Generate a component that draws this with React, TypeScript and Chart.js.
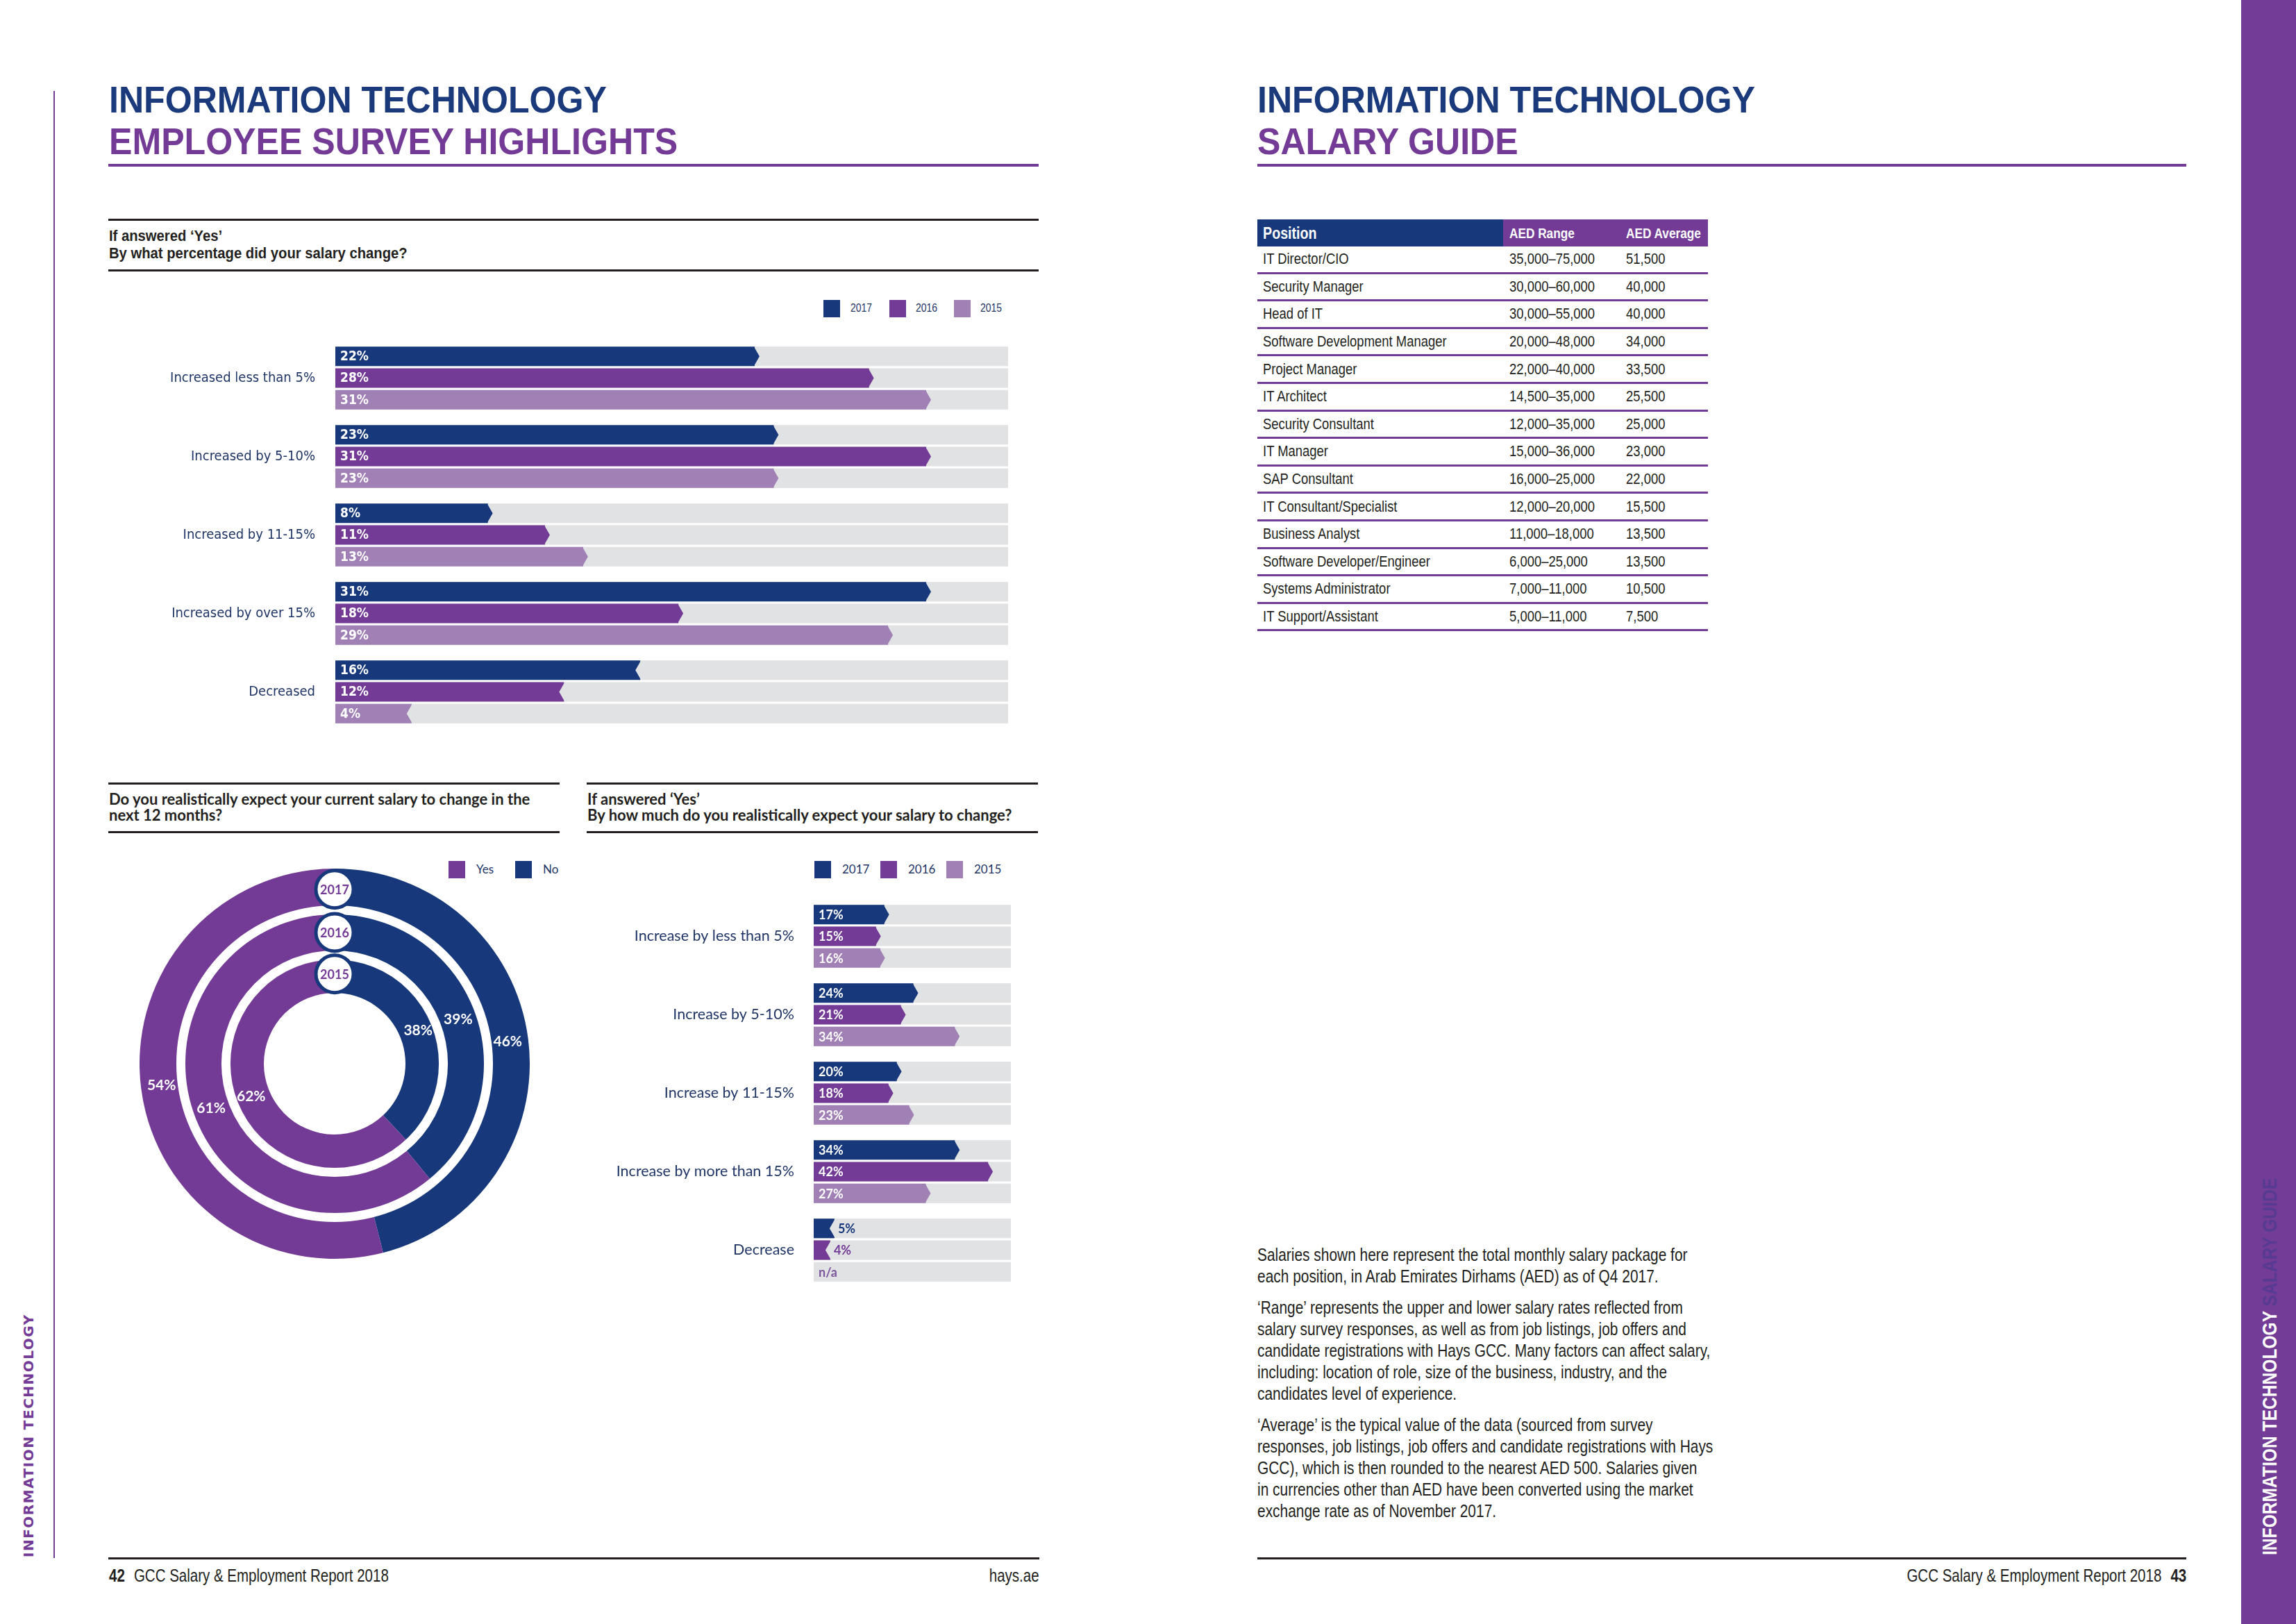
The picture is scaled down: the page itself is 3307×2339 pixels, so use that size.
import React, { useEffect, useRef } from 'react';
import { Chart, registerables } from 'chart.js';

Chart.register(...registerables);

// ---------- data ----------
const surveyCategories = ['Increased less than 5%', 'Increased by 5-10%', 'Increased by 11-15%', 'Increased by over 15%', 'Decreased'];
const surveyYears = ['2017', '2016', '2015'];
const survey2017 = [22, 23, 8, 31, 16];
const survey2016 = [28, 31, 11, 18, 12];
const survey2015 = [31, 23, 13, 29, 4];

const expectCategories = ['Increase by less than 5%', 'Increase by 5-10%', 'Increase by 11-15%', 'Increase by more than 15%', 'Decrease'];
const expect2017 = [17, 24, 20, 34, 5];
const expect2016 = [15, 21, 18, 42, 4];
const expect2015: (number | null)[] = [16, 34, 23, 27, null];

const ringYears = ['2017', '2016', '2015'];
const ringAnswers = ['No', 'Yes'];
const ringNo = [46, 39, 38];
const ringYes = [54, 61, 62];

const positions = ['IT Director/CIO', 'Security Manager', 'Head of IT', 'Software Development Manager', 'Project Manager', 'IT Architect', 'Security Consultant', 'IT Manager', 'SAP Consultant', 'IT Consultant/Specialist', 'Business Analyst', 'Software Developer/Engineer', 'Systems Administrator', 'IT Support/Assistant'];
const ranges = ['35,000–75,000', '30,000–60,000', '30,000–55,000', '20,000–48,000', '22,000–40,000', '14,500–35,000', '12,000–35,000', '15,000–36,000', '16,000–25,000', '12,000–20,000', '11,000–18,000', '6,000–25,000', '7,000–11,000', '5,000–11,000'];
const averages = ['51,500', '40,000', '40,000', '34,000', '33,500', '25,500', '25,000', '23,000', '22,000', '15,500', '13,500', '13,500', '10,500', '7,500'];

const footnote = [
  ['Salaries shown here represent the total monthly salary package for', 'each position, in Arab Emirates Dirhams (AED) as of Q4 2017.'],
  ['‘Range’ represents the upper and lower salary rates reflected from', 'salary survey responses, as well as from job listings, job offers and', 'candidate registrations with Hays GCC. Many factors can affect salary,', 'including: location of role, size of the business, industry, and the', 'candidates level of experience.'],
  ['‘Average’ is the typical value of the data (sourced from survey', 'responses, job listings, job offers and candidate registrations with Hays', 'GCC), which is then rounded to the nearest AED 500. Salaries given', 'in currencies other than AED have been converted using the market', 'exchange rate as of November 2017.'],
];

// ---------- style ----------
const NAVY = '#17397b';
const TITLE_NAVY = '#1a3a7c';
const PURPLE = '#733b96';
const LILAC = '#a080b5';
const TRACK = '#e1e2e4';
const INK = '#231f20';
const LABEL_NAVY = '#1f3566';
const NA_COLOR = '#7d559f';
const SIDEBAR = '#733d97';
const SIDEBAR_TEXT2 = '#573a92';

const SANS = '"Liberation Sans", Arial, sans-serif';
const COND = '"DejaVu Sans Condensed", "DejaVu Sans", sans-serif';
const WIDE = 'Lato, "Open Sans", sans-serif';
const EXT = '"DejaVu Sans", sans-serif';
const NARROW_X = 0.82;

type BarProps = {
  categories: string[];
  series: (number | null)[][];
  names: string[];
  colors: string[];
  max: number;
  left: number;
  top: number;
  width: number;
  height: number;
  axisWidth: number;
  labelPad: number;
  catFamily: string;
  catSize: number;
  valueFamily: string;
  valueSize: number;
};

function BarChart(p: BarProps) {
  const ref = useRef<HTMLCanvasElement>(null);
  useEffect(() => {
    const tip = 7;
    const decor = {
      id: 'barDecor',
      beforeDatasetsDraw(chart: any) {
        const { ctx, chartArea: a } = chart;
        ctx.save();
        ctx.fillStyle = TRACK;
        chart.data.datasets.forEach((_: any, di: number) => {
          chart.getDatasetMeta(di).data.forEach((bar: any) => {
            ctx.fillRect(a.left, bar.y - bar.height / 2, a.right - a.left, bar.height);
          });
        });
        ctx.restore();
      },
      afterDatasetsDraw(chart: any) {
        const { ctx, chartArea: a } = chart;
        ctx.save();
        chart.data.datasets.forEach((ds: any, di: number) => {
          chart.getDatasetMeta(di).data.forEach((bar: any, i: number) => {
            const v = ds.data[i];
            const dec = /^Decrease/.test(chart.data.labels[i]);
            const h = bar.height;
            const y = bar.y;
            const t = y - h / 2;
            const b = y + h / 2;
            let lx = a.left + 7;
            let color = '#fff';
            const text = v == null ? 'n/a' : `${v}%`;
            if (v != null) {
              const x = bar.x;
              ctx.beginPath();
              if (dec) {
                ctx.fillStyle = TRACK;
                ctx.moveTo(x + 1, t);
                ctx.lineTo(x - tip, y);
                ctx.lineTo(x + 1, b);
              } else {
                ctx.fillStyle = ds.backgroundColor;
                ctx.moveTo(x - 1, t);
                ctx.lineTo(x + tip, y);
                ctx.lineTo(x - 1, b);
              }
              ctx.closePath();
              ctx.fill();
              if (x - a.left < 55) {
                lx = x + 5;
                color = ds.backgroundColor;
              }
            } else {
              color = NA_COLOR;
            }
            ctx.font = `bold ${p.valueSize}px ${p.valueFamily}`;
            ctx.fillStyle = color;
            ctx.textAlign = 'left';
            ctx.textBaseline = 'middle';
            ctx.fillText(text, lx, y + 1);
          });
        });
        ctx.restore();
      },
    };
    const chart = new Chart(ref.current as HTMLCanvasElement, {
      type: 'bar',
      data: {
        labels: p.categories,
        datasets: p.series.map((d, k) => ({
          label: p.names[k],
          data: d,
          backgroundColor: p.colors[k],
          borderWidth: 0,
          categoryPercentage: 0.83,
          barPercentage: 0.9,
        })),
      },
      options: {
        indexAxis: 'y',
        responsive: false,
        animation: false,
        devicePixelRatio: 1,
        events: [],
        layout: { padding: 0, autoPadding: false },
        plugins: { legend: { display: false }, tooltip: { enabled: false } },
        scales: {
          x: { type: 'linear', min: 0, max: p.max, display: false },
          y: {
            type: 'category',
            grid: { display: false, drawTicks: false },
            border: { display: false },
            ticks: {
              color: LABEL_NAVY,
              padding: p.labelPad,
              font: { family: p.catFamily, size: p.catSize, weight: 'normal' },
            },
            afterFit: (s: any) => {
              s.width = p.axisWidth;
              s.paddingTop = 0;
              s.paddingBottom = 0;
            },
          },
        },
      } as any,
      plugins: [decor],
    });
    return () => chart.destroy();
  }, []);
  return (
    <canvas
      ref={ref}
      width={p.width}
      height={p.height}
      style={{ position: 'absolute', left: p.left, top: p.top, width: p.width, height: p.height }}
    />
  );
}

function RingChart() {
  const ref = useRef<HTMLCanvasElement>(null);
  useEffect(() => {
    const decor = {
      id: 'ringDecor',
      afterDatasetsDraw(chart: any) {
        const ctx = chart.ctx;
        const metas = chart.data.datasets.map((_: any, i: number) => chart.getDatasetMeta(i));
        const a0 = metas[0].data[0];
        const cx = a0.x;
        const cy = a0.y;
        ctx.save();
        ctx.strokeStyle = '#fff';
        ctx.lineWidth = 13;
        for (let i = 0; i < metas.length - 1; i++) {
          ctx.beginPath();
          ctx.arc(cx, cy, metas[i].data[0].innerRadius, 0, Math.PI * 2);
          ctx.stroke();
        }
        ctx.font = `bold 21px ${WIDE}`;
        ctx.fillStyle = '#fff';
        ctx.textAlign = 'center';
        ctx.textBaseline = 'middle';
        metas.forEach((meta: any, di: number) => {
          meta.data.forEach((arc: any, j: number) => {
            const pos = arc.tooltipPosition();
            ctx.fillText(`${chart.data.datasets[di].data[j]}%`, pos.x, pos.y);
          });
        });
        metas.forEach((meta: any, di: number) => {
          const arc = meta.data[0];
          const r = (arc.innerRadius + arc.outerRadius) / 2;
          const by = cy - r;
          ctx.beginPath();
          ctx.arc(cx, by, 27, 0, Math.PI * 2);
          ctx.fillStyle = '#fff';
          ctx.fill();
          ctx.lineWidth = 5;
          ctx.strokeStyle = NAVY;
          ctx.stroke();
          ctx.font = `bold 18px ${WIDE}`;
          ctx.fillStyle = PURPLE;
          ctx.fillText(chart.data.datasets[di].label, cx, by + 1);
        });
        ctx.restore();
      },
    };
    const weights = [1.09, 1.19, 1.0];
    const chart = new Chart(ref.current as HTMLCanvasElement, {
      type: 'doughnut',
      data: {
        labels: ringAnswers,
        datasets: ringYears.map((yr, i) => ({
          label: yr,
          data: [ringNo[i], ringYes[i]],
          backgroundColor: [NAVY, PURPLE],
          borderWidth: 0,
          hoverOffset: 0,
          weight: weights[i],
        })),
      },
      options: {
        responsive: false,
        animation: false,
        devicePixelRatio: 1,
        events: [],
        cutout: '36.3%',
        layout: { padding: 0 },
        plugins: { legend: { display: false }, tooltip: { enabled: false } },
      } as any,
      plugins: [decor],
    });
    return () => chart.destroy();
  }, []);
  return (
    <canvas ref={ref} width={562} height={562} style={{ position: 'absolute', left: 201, top: 1251, width: 562, height: 562 }} />
  );
}

const abs = (left: number, top: number, extra: React.CSSProperties = {}): React.CSSProperties => ({
  position: 'absolute',
  left,
  top,
  ...extra,
});

function Rule({ left, top, width, height, color }: { left: number; top: number; width: number; height: number; color: string }) {
  return <div style={abs(left, top, { width, height, background: color })} />;
}

function Narrow({ children, origin = 'left center' }: { children: React.ReactNode; origin?: string }) {
  return (
    <span style={{ display: 'inline-block', transform: `scaleX(${NARROW_X})`, transformOrigin: origin, whiteSpace: 'nowrap' }}>
      {children}
    </span>
  );
}

function LegendItem({ x, tx, y, color, label, family, narrow }: { x: number; tx: number; y: number; color: string; label: string; family: string; narrow?: boolean }) {
  return (
    <>
      <div style={abs(x, y - 12, { width: 24, height: 25, background: color })} />
      <div style={abs(tx, y - 15, { height: 30, lineHeight: '30px', fontFamily: family, fontSize: 17, color: LABEL_NAVY, whiteSpace: 'nowrap' })}>
        {narrow ? <Narrow>{label}</Narrow> : label}
      </div>
    </>
  );
}

export default function App() {
  const titleStyle: React.CSSProperties = {
    fontFamily: SANS,
    fontWeight: 'bold',
    fontSize: 53,
    lineHeight: '59.5px',
    whiteSpace: 'nowrap',
    transform: 'scaleX(0.945)',
    transformOrigin: 'left top',
  };
  const rowH = 39.6;
  return (
    <div style={{ position: 'absolute', left: 0, top: 0, width: 3307, height: 2339, background: '#fff', overflow: 'hidden' }}>
      {/* left margin line and vertical label */}
      <Rule left={77} top={131} width={2} height={2113} color={PURPLE} />
      <div
        style={abs(31, 2243, {
          transform: 'rotate(-90deg)',
          transformOrigin: '0 0',
          fontFamily: EXT,
          fontWeight: 'bold',
          fontSize: 20,
          lineHeight: '20px',
          letterSpacing: 1.5,
          color: PURPLE,
          whiteSpace: 'nowrap',
        })}
      >
        INFORMATION TECHNOLOGY
      </div>

      {/* left title */}
      <div style={abs(157, 114, titleStyle)}>
        <div style={{ color: TITLE_NAVY }}>INFORMATION TECHNOLOGY</div>
        <div style={{ color: PURPLE }}>EMPLOYEE SURVEY HIGHLIGHTS</div>
      </div>
      <Rule left={156} top={236} width={1340} height={4} color={PURPLE} />

      {/* chart 1 header */}
      <Rule left={156} top={315} width={1340} height={3} color={INK} />
      <div
        style={abs(157, 327, {
          fontFamily: SANS,
          fontWeight: 'bold',
          fontSize: 22,
          lineHeight: '25px',
          color: INK,
          whiteSpace: 'nowrap',
          transform: 'scaleX(0.92)',
          transformOrigin: 'left top',
        })}
      >
        <div>If answered ‘Yes’</div>
        <div>By what percentage did your salary change?</div>
      </div>
      <Rule left={156} top={388} width={1340} height={3} color={INK} />
      <LegendItem x={1186} tx={1225} y={444} color={NAVY} label={surveyYears[0]} family={SANS} narrow />
      <LegendItem x={1281} tx={1319} y={444} color={PURPLE} label={surveyYears[1]} family={SANS} narrow />
      <LegendItem x={1374} tx={1412} y={444} color={LILAC} label={surveyYears[2]} family={SANS} narrow />
      <BarChart
        categories={surveyCategories}
        series={[survey2017, survey2016, survey2015]}
        names={surveyYears}
        colors={[NAVY, PURPLE, LILAC]}
        max={35.3}
        left={150}
        top={488}
        width={1302}
        height={565}
        axisWidth={333}
        labelPad={29}
        catFamily={COND}
        catSize={20}
        valueFamily={COND}
        valueSize={19}
      />

      {/* doughnut section */}
      <Rule left={156} top={1127} width={650} height={3} color={INK} />
      <div style={abs(157, 1139, { fontFamily: WIDE, fontWeight: 'bold', fontSize: 22, lineHeight: '23px', color: INK, whiteSpace: 'nowrap' })}>
        <div>Do you realistically expect your current salary to change in the</div>
        <div>next 12 months?</div>
      </div>
      <Rule left={156} top={1197} width={650} height={3} color={INK} />
      <LegendItem x={646} tx={686} y={1252} color={PURPLE} label={ringAnswers[1]} family={WIDE} />
      <LegendItem x={742} tx={782} y={1252} color={NAVY} label={ringAnswers[0]} family={WIDE} />
      <RingChart />

      {/* chart 2 section */}
      <Rule left={845} top={1127} width={650} height={3} color={INK} />
      <div style={abs(846, 1139, { fontFamily: WIDE, fontWeight: 'bold', fontSize: 22, lineHeight: '23px', color: INK, whiteSpace: 'nowrap' })}>
        <div>If answered ‘Yes’</div>
        <div>By how much do you realistically expect your salary to change?</div>
      </div>
      <Rule left={845} top={1197} width={650} height={3} color={INK} />
      <LegendItem x={1173} tx={1213} y={1252} color={NAVY} label={surveyYears[0]} family={WIDE} />
      <LegendItem x={1268} tx={1308} y={1252} color={PURPLE} label={surveyYears[1]} family={WIDE} />
      <LegendItem x={1363} tx={1403} y={1252} color={LILAC} label={surveyYears[2]} family={WIDE} />
      <BarChart
        categories={expectCategories}
        series={[expect2017, expect2016, expect2015]}
        names={surveyYears}
        colors={[NAVY, PURPLE, LILAC]}
        max={47.5}
        left={800}
        top={1292}
        width={656}
        height={565}
        axisWidth={372}
        labelPad={28}
        catFamily={WIDE}
        catSize={21.5}
        valueFamily={WIDE}
        valueSize={18}
      />

      {/* left footer */}
      <Rule left={156} top={2243} width={1341} height={3} color={INK} />
      <div style={abs(157, 2254, { fontFamily: SANS, fontSize: 25, lineHeight: '30px', color: INK, whiteSpace: 'nowrap' })}>
        <Narrow>
          <b>42</b>
          <span style={{ marginLeft: 16 }}>GCC Salary &amp; Employment Report 2018</span>
        </Narrow>
      </div>
      <div style={abs(1297, 2254, { width: 200, textAlign: 'right', fontFamily: SANS, fontSize: 25, lineHeight: '30px', color: INK, whiteSpace: 'nowrap' })}>
        <Narrow origin="right center">hays.ae</Narrow>
      </div>

      {/* right title */}
      <div style={abs(1811, 114, titleStyle)}>
        <div style={{ color: TITLE_NAVY }}>INFORMATION TECHNOLOGY</div>
        <div style={{ color: PURPLE }}>SALARY GUIDE</div>
      </div>
      <Rule left={1811} top={236} width={1338} height={4} color={PURPLE} />

      {/* table */}
      <div style={abs(1811, 316, { width: 649, fontFamily: SANS, color: INK })}>
        <div style={{ display: 'flex', height: 39, color: '#fff', fontWeight: 'bold' }}>
          <div style={{ width: 354, background: NAVY, paddingLeft: 8, boxSizing: 'border-box', fontSize: 24, lineHeight: '39px' }}>
            <Narrow>Position</Narrow>
          </div>
          <div style={{ width: 168, background: PURPLE, paddingLeft: 9, boxSizing: 'border-box', fontSize: 21, lineHeight: '39px' }}>
            <Narrow>AED Range</Narrow>
          </div>
          <div style={{ width: 127, background: PURPLE, paddingLeft: 9, boxSizing: 'border-box', fontSize: 21, lineHeight: '39px' }}>
            <Narrow>AED Average</Narrow>
          </div>
        </div>
        {positions.map((pos, i) => (
          <div
            key={pos}
            style={{ display: 'flex', alignItems: 'center', height: rowH, borderBottom: `3px solid ${PURPLE}`, boxSizing: 'border-box', fontSize: 22.5, whiteSpace: 'nowrap' }}
          >
            <div style={{ width: 354, paddingLeft: 8, boxSizing: 'border-box' }}>
              <Narrow>{pos}</Narrow>
            </div>
            <div style={{ width: 168, paddingLeft: 9, boxSizing: 'border-box' }}>
              <Narrow>{ranges[i]}</Narrow>
            </div>
            <div style={{ width: 127, paddingLeft: 9, boxSizing: 'border-box' }}>
              <Narrow>{averages[i]}</Narrow>
            </div>
          </div>
        ))}
      </div>

      {/* footnote */}
      <div
        style={abs(1811, 1792, {
          fontFamily: SANS,
          fontSize: 25.5,
          lineHeight: '31px',
          color: INK,
          whiteSpace: 'nowrap',
          transform: `scaleX(${NARROW_X})`,
          transformOrigin: 'left top',
        })}
      >
        {footnote.map((para, i) => (
          <div key={i} style={{ marginTop: i === 0 ? 0 : 14 }}>
            {para.map((ln) => (
              <div key={ln}>{ln}</div>
            ))}
          </div>
        ))}
      </div>

      {/* right footer */}
      <Rule left={1811} top={2243} width={1338} height={3} color={INK} />
      <div style={abs(2649, 2254, { width: 500, textAlign: 'right', fontFamily: SANS, fontSize: 25, lineHeight: '30px', color: INK, whiteSpace: 'nowrap' })}>
        <Narrow origin="right center">
          GCC Salary &amp; Employment Report 2018
          <b style={{ marginLeft: 16 }}>43</b>
        </Narrow>
      </div>

      {/* sidebar */}
      <div style={abs(3228, 0, { width: 79, height: 2339, background: SIDEBAR })} />
      <div
        style={abs(3254, 2240, {
          transform: `rotate(-90deg) scaleX(${NARROW_X})`,
          transformOrigin: '0 0',
          fontFamily: SANS,
          fontWeight: 'bold',
          fontSize: 30,
          lineHeight: '30px',
          whiteSpace: 'nowrap',
        })}
      >
        <span style={{ color: '#fff' }}>INFORMATION TECHNOLOGY</span> <span style={{ color: SIDEBAR_TEXT2 }}>SALARY GUIDE</span>
      </div>
    </div>
  );
}
